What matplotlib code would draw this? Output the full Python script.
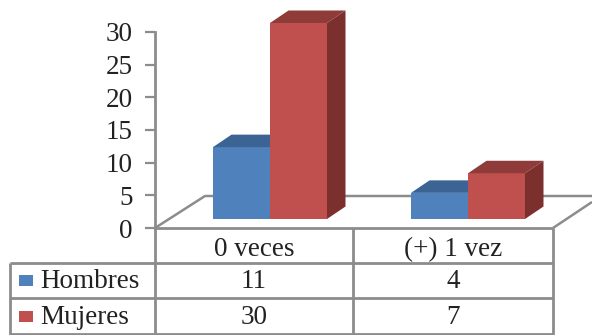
import matplotlib
matplotlib.use("Agg")
import matplotlib.pyplot as plt
from matplotlib.patches import Polygon, Rectangle

categorias = ["0 veces", "(+) 1 vez"]
series = ["Hombres", "Mujeres"]
hombres = [11, 4]
mujeres = [30, 7]
y_ticks = [0, 5, 10, 15, 20, 25, 30]

AZUL = ["#4F81BD", "#3B6494", "#3B6494"]
ROJO = ["#C0504D", "#8F3B39", "#7C302E"]
GRIS = "#8C8C8C"
TEXTO = "#222222"
W, H = 592, 335
FS = 19.5

plt.rcParams["font.family"] = ["Liberation Serif", "DejaVu Serif"]
fig = plt.figure(figsize=(W / 100, H / 100), dpi=100)

# capa de fondo en pixeles: piso y tabla de datos
fondo = fig.add_axes([0, 0, 1, 1])
fondo.set_xlim(0, W)
fondo.set_ylim(H, 0)
fondo.axis("off")

def linea(xs, ys, lw=2.0):
    fondo.plot(xs, ys, color=GRIS, lw=lw, solid_capstyle="butt", clip_on=False)

linea([155, 205, 592], [228, 196, 196], 1.8)
linea([553, 592], [228, 202], 1.8)
linea([155, 553], [228, 228])
linea([10, 553], [263, 263])
linea([10, 553], [298, 298])
linea([10, 553], [334, 334])
linea([10, 10], [263, 335])
for xv in [155, 353, 553]:
    linea([xv, xv], [228, 335])

centros = [254, 453]
filas = [281, 317]
for xc, cat, h, m in zip(centros, categorias, hombres, mujeres):
    fondo.text(xc, 250, cat, ha="center", va="center", fontsize=FS, color=TEXTO)
    fondo.text(xc, filas[0], str(h), ha="center", va="center", fontsize=FS, color=TEXTO)
    fondo.text(xc, filas[1], str(m), ha="center", va="center", fontsize=FS, color=TEXTO)

for yf, nombre, col in zip(filas, series, [AZUL[0], ROJO[0]]):
    fondo.add_patch(Rectangle((19, yf - 6), 14, 11, color=col, lw=0))
    fondo.text(40, yf, nombre, ha="left", va="center", fontsize=FS, color=TEXTO)

# ejes del grafico: eje y real de 0 a 30
ax = fig.add_axes([155 / W, (H - 228) / H, (W - 155) / W, 196 / H])
ax.patch.set_alpha(0)
ax.set_xlim(155, W)
ax.set_ylim(0, 30)
for lado in ["top", "right", "bottom"]:
    ax.spines[lado].set_visible(False)
ax.spines["left"].set_color(GRIS)
ax.spines["left"].set_linewidth(2.0)
ax.set_xticks([])
ax.set_yticks(y_ticks)
ax.tick_params(axis="y", length=7, width=1.6, color=GRIS, pad=9,
               labelsize=FS, labelcolor=TEXTO)

base = 9 / (196 / 30)     # las barras se apoyan sobre el piso
alto_fondo = 12.5 / (196 / 30)
prof = 18.5
ancho = 57
x_grupos = [270, 468]

def barra_3d(x0, valor, colores):
    frente, techo, lado = colores
    y0, y1 = base, base + valor
    ax.bar(x0, valor, width=ancho, bottom=base, align="edge", color=frente,
           lw=0, clip_on=False, zorder=3)
    ax.add_patch(Polygon([(x0, y1), (x0 + ancho, y1), (x0 + ancho + prof, y1 + alto_fondo),
                          (x0 + prof, y1 + alto_fondo)], color=techo, lw=0, clip_on=False, zorder=3))
    ax.add_patch(Polygon([(x0 + ancho, y0), (x0 + ancho + prof, y0 + alto_fondo),
                          (x0 + ancho + prof, y1 + alto_fondo), (x0 + ancho, y1)],
                         color=lado, lw=0, clip_on=False, zorder=3))

for xg, h, m in zip(x_grupos, hombres, mujeres):
    barra_3d(xg - ancho, h, AZUL)
    barra_3d(xg, m, ROJO)

fig.savefig("out.png", dpi=100)
